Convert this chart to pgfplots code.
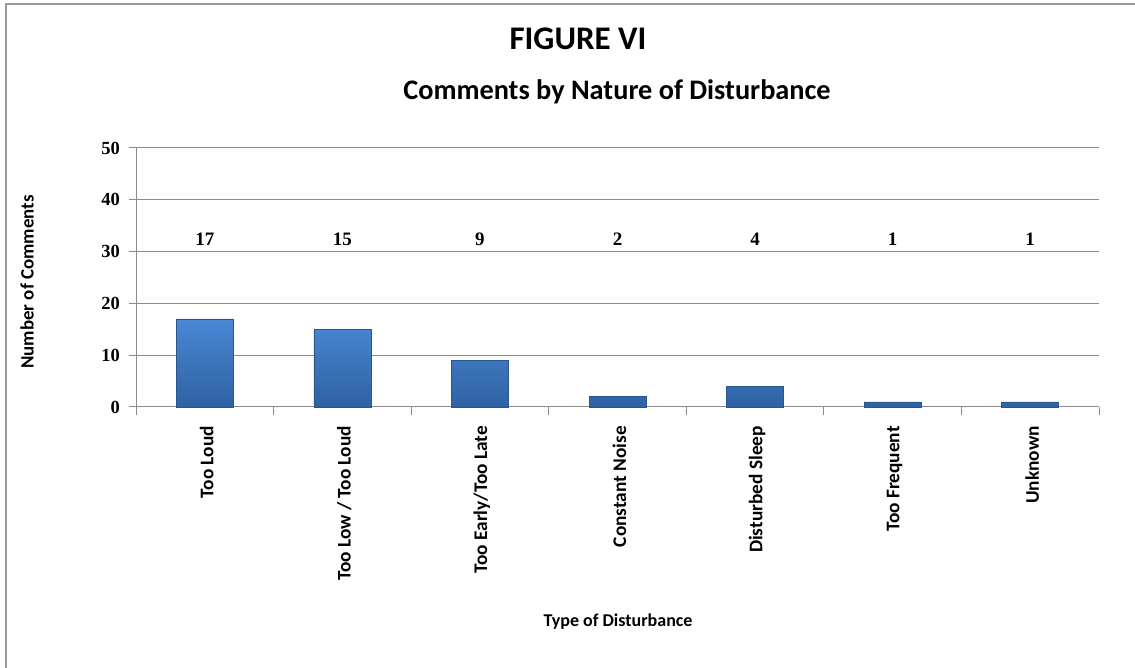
\documentclass[border=0pt]{standalone}
\usepackage{pgfplots}
\pgfplotsset{compat=1.18}
\usepackage{fontspec}
\setmainfont{Carlito}
\newfontfamily\numfont{Liberation Serif}
\definecolor{gridc}{HTML}{8C8C8C}
\definecolor{framec}{HTML}{9A9A9A}
\definecolor{bartop}{HTML}{4A88D4}
\definecolor{barbot}{HTML}{2E62A3}
\definecolor{bardraw}{HTML}{2A5690}
\begin{document}
\begin{tikzpicture}[x=1pt,y=1pt]
\useasboundingbox (0,0) rectangle (1135,668);
\draw[color=framec, line width=1.3pt] (6,-20) -- (6,664) -- (1160,664);
\node[font=\bfseries\fontsize{33}{33}\selectfont, anchor=base] at (578,618) {FIGURE VI};
\node[font=\bfseries\fontsize{28.3}{28.3}\selectfont, anchor=base] at (617,568) {Comments by Nature of Disturbance};
\node[font=\bfseries\fontsize{18.9}{18.9}\selectfont, rotate=90, anchor=center] at (27,386) {Number of Comments};
\node[font=\bfseries\fontsize{18}{18}\selectfont, anchor=center] at (618,46) {Type of Disturbance};
\begin{axis}[
  at={(136pt,261pt)}, anchor=south west,
  scale only axis, width=963pt, height=259pt,
  xmin=-0.5, xmax=6.5, ymin=0, ymax=50,
  axis lines=left,
  axis line style={-, draw=gridc, line width=1pt},
  ytick={0,10,...,50},
  ymajorgrids, grid style={draw=gridc, line width=1pt},
  xtick={0,...,6},
  xticklabels={Too Loud, Too Low / Too Loud, Too Early/Too Late, Constant Noise, Disturbed Sleep, Too Frequent, Unknown},
  minor xtick={-0.5,0.5,...,6.5},
  major x tick style={draw=none},
  minor x tick style={draw=gridc, line width=1pt},
  y tick style={draw=gridc, line width=1pt},
  tick align=outside,
  major tick length=7pt, minor tick length=8pt,
  /pgf/number format/assume math mode=true,
  yticklabel style={font=\numfont\bfseries\fontsize{18.5}{18.5}\selectfont, inner sep=2pt, xshift=-7pt},
  xticklabel style={font=\bfseries\fontsize{19.3}{19.3}\selectfont, rotate=90, anchor=east, inner sep=0pt, xshift=-12pt, yshift=-2pt},
  clip=false,
]
\addplot[ybar, bar width=57pt, draw=bardraw, line width=0.6pt, top color=bartop, bottom color=barbot]
  coordinates {(0,17) (1,15) (2,9) (3,2) (4,4) (5,1) (6,1)};
\addplot[draw=none, mark=none, nodes near coords, point meta=explicit symbolic,
  nodes near coords style={anchor=center, font=\numfont\bfseries\fontsize{19}{19}\selectfont, text=black}]
  coordinates {(0,32.4)[17] (1,32.4)[15] (2,32.4)[9] (3,32.4)[2] (4,32.4)[4] (5,32.4)[1] (6,32.4)[1]};
\end{axis}
\end{tikzpicture}
\end{document}
